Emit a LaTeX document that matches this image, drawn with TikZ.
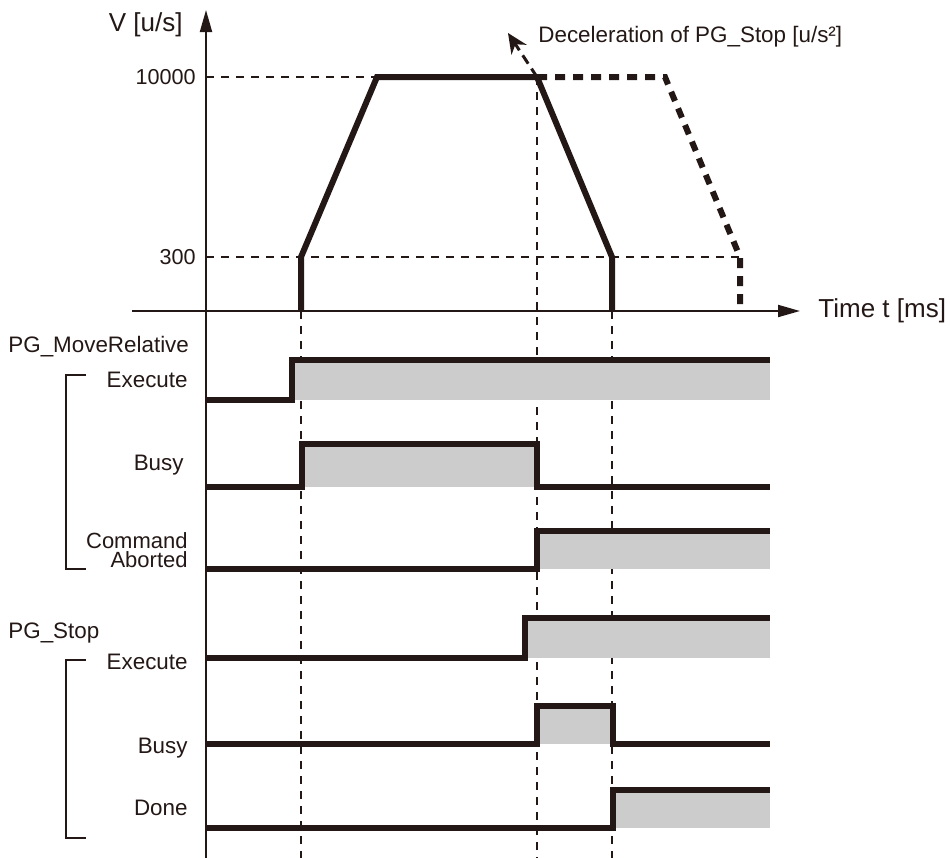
\documentclass[tikz,border=0pt]{standalone}
\usepackage{fontspec}
\setmainfont{Liberation Sans}
\usepackage{xcolor}
\usetikzlibrary{arrows.meta,calc}
\definecolor{ink}{HTML}{231815}
\definecolor{shade}{HTML}{CCCCCC}

\begin{document}
\begin{tikzpicture}[x=0.5pt,y=-0.5pt,line join=miter,
axis/.style={draw=ink,line width=1pt,-{Triangle[length=11pt,width=6pt]}},guide/.style={draw=ink,line width=0.7pt,dash pattern=on 4pt off 3.5pt},profile/.style={draw=ink,line width=3pt},plan/.style={draw=ink,line width=3pt,dash pattern=on 5pt off 4pt},signal/.style={draw=ink,line width=3pt},busfill/.style={fill=shade},lbl/.style={inner sep=0pt,text=ink,font=\fontsize{11.2}{12}\selectfont},grp/.style={draw=ink,line width=1pt}]
\useasboundingbox (0,0) rectangle (950,858);
% velocity profile
\coordinate (o) at (206,311);
\coordinate (s0) at (301,311);
\coordinate (s1) at (301,257);
\coordinate (s2) at (377,77);
\coordinate (s3) at (537,77);
\coordinate (s4) at (612,257);
\coordinate (s5) at (612,311);
\coordinate (p1) at (665,77);
\coordinate (p2) at (740,257);
\coordinate (p3) at (740,311);
\draw[guide] (206,77)--(s2);
\draw[guide] (206,257)--(p2);
\draw[guide] (s0)--(301,858);
\draw[guide] (s3)--(537,858);
\draw[guide] (s5)--(612,858);
\draw[axis] (206,858)--(206,10);
\draw[axis] (132,311)--(800,311);
\node[lbl,anchor=east,font=\fontsize{13}{14}\selectfont] (vlab) at (183,25) {V [u/s]};
\node[lbl,anchor=east,font=\fontsize{10.8}{12}\selectfont] (vmax) at (196,77) {10000};
\node[lbl,anchor=east,font=\fontsize{10.8}{12}\selectfont] (vmin) at (196,257) {300};
\node[lbl,anchor=west,font=\fontsize{13}{14}\selectfont] (tlab) at (818,311) {Time t [ms]};
\draw[plan] (s3)--(p1)--(p2)--(p3);
\draw[profile] (s0)--(s1)--(s2)--(s3)--(s4)--(s5);
\node[lbl,anchor=west] (decel) at (538,37) {Deceleration of PG\_Stop [u/s²]};
\draw[draw=ink,line width=1.5pt,dash pattern=on 5pt off 3pt,-{Stealth[length=10pt,width=9pt]}] (s3)--(508,33);
% timing signals: rise, high, low
\foreach \r/\h/\l in {292/360/400,537/531/569,525/618/658,613/790/828}{
\fill[busfill] (\r,\h) rectangle (770,\l);
\draw[signal] (206,\l)--(\r,\l)--(\r,\h)--(770,\h);
}
% pulses: rise, fall, high, low
\foreach \r/\f/\h/\l in {302/537/444/487,537/613/706/744}{
\fill[busfill] (\r,\h) rectangle (\f,\l);
\draw[signal] (206,\l)--(\r,\l)--(\r,\h)--(\f,\h)--(\f,\l)--(770,\l);
}
\node[lbl,anchor=west] (mv) at (8,347) {PG\_MoveRelative};
\node[lbl,anchor=east] (mvex) at (188,380) {Execute};
\node[lbl,anchor=east] (mvbusy) at (184,465) {Busy};
\node[lbl,anchor=east,align=right,font=\fontsize{11}{9.6}\selectfont] (mvab) at (188,550) {Command\\Aborted};
\draw[grp] (86,375)--(66,375)--(66,569)--(86,569);
\node[lbl,anchor=west] (st) at (8,633) {PG\_Stop};
\node[lbl,anchor=east] (stex) at (188,662) {Execute};
\node[lbl,anchor=east] (stbusy) at (188,748) {Busy};
\node[lbl,anchor=east] (stdone) at (188,808) {Done};
\draw[grp] (86,660)--(66,660)--(66,838)--(86,838);
\end{tikzpicture}
\end{document}
